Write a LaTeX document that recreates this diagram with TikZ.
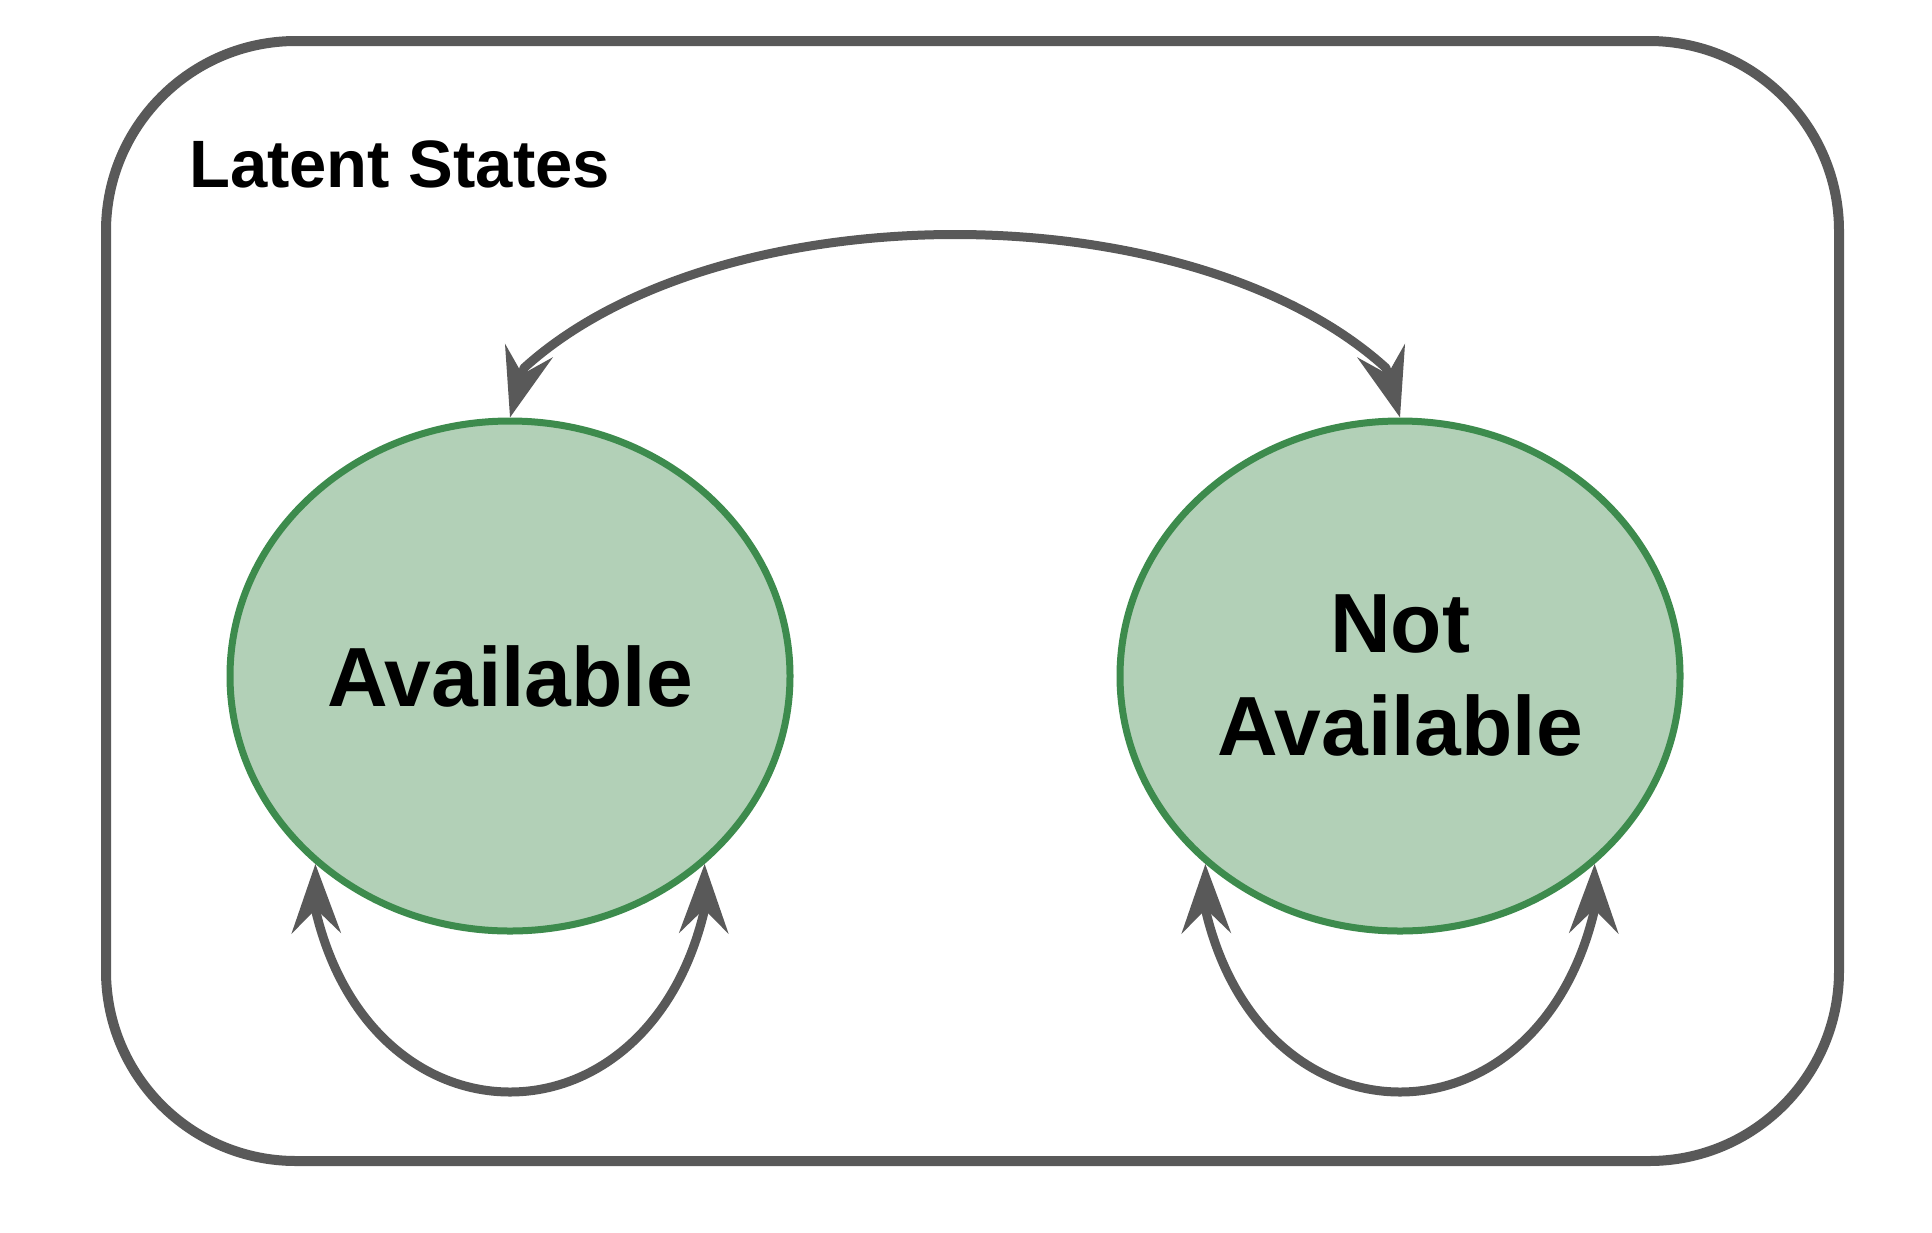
\documentclass[tikz,border=0pt]{standalone}
\usepackage{fontspec}
\setmainfont{Liberation Sans}
\usetikzlibrary{arrows.meta,shapes.geometric}
\definecolor{linegray}{RGB}{89,89,89}
\definecolor{statefill}{RGB}{178,208,183}
\definecolor{stateborder}{RGB}{61,139,77}
\begin{document}
\begin{tikzpicture}[x=1pt,y=-1pt,
  frame/.style={draw=linegray,line width=10pt,rounded corners=190pt},
  statenode/.style={ellipse,draw=stateborder,fill=statefill,line width=7pt,
    minimum width=560pt,minimum height=510pt,inner sep=0pt,align=center,
    font=\fontsize{84}{103}\selectfont\bfseries},
  conn/.style={draw=linegray,line width=9pt,line join=round,
    {Stealth[length=69pt,width=49pt,inset=24pt]}-{Stealth[length=69pt,width=49pt,inset=24pt]}},
  title/.style={anchor=base west,inner sep=0pt,font=\fontsize{67}{80}\selectfont\bfseries}
]
\useasboundingbox (0,0) rectangle (1932,1232);
\draw[frame] (106,41) rectangle (1839,1161);
\node[title] (title) at (189,187) {Latent States};
\node[statenode] (A) at (510,676) {Available};
\node[statenode] (B) at (1400,676) {Not\\Available};
% bend points just behind the arrowheads
\coordinate (ta) at (524,368);
\coordinate (tb) at (1386,368);
\coordinate (la1) at (316,912);
\coordinate (la2) at (704,912);
\coordinate (lb1) at (1206,912);
\coordinate (lb2) at (1594,912);
\draw[conn] (A.north) -- (ta) .. controls (720,190) and (1190,190) .. (tb) -- (B.north);
\draw[conn] (A.224) -- (la1) .. controls (374,1152) and (646,1152) .. (la2) -- (A.316);
\draw[conn] (B.224) -- (lb1) .. controls (1264,1152) and (1536,1152) .. (lb2) -- (B.316);
\end{tikzpicture}
\end{document}
